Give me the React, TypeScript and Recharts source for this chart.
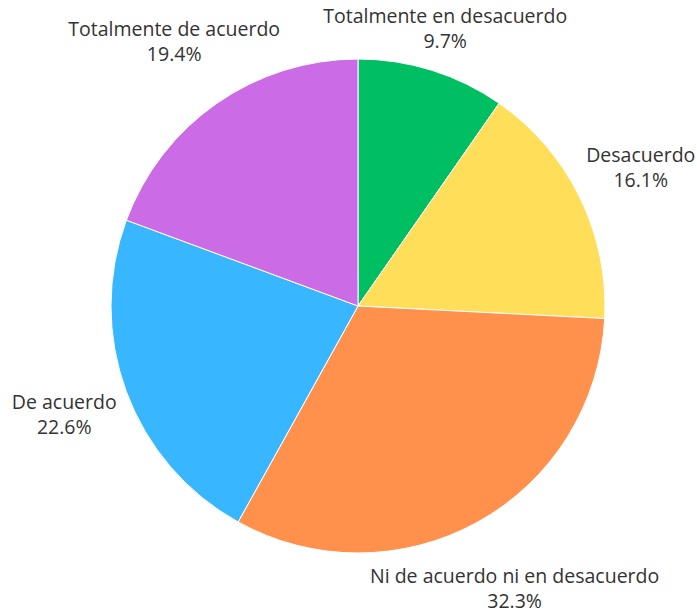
import { PieChart, Pie, Cell } from 'recharts'

const categories = [
  'Totalmente en desacuerdo',
  'Desacuerdo',
  'Ni de acuerdo ni en desacuerdo',
  'De acuerdo',
  'Totalmente de acuerdo',
]
const counts = [3, 5, 10, 7, 6]
const colors = ['#00BF63', '#FFDE59', '#FF914D', '#38B6FF', '#CB6CE6']

const data = categories.map((name, i) => ({ name, value: counts[i] }))

const RADIAN = Math.PI / 180

function renderLabel(props: any) {
  const { cx, cy, midAngle, outerRadius, percent, name } = props
  const dx = Math.cos(-midAngle * RADIAN)
  const dy = Math.sin(-midAngle * RADIAN)
  // labels a bit further out near the top and bottom
  let r = outerRadius + 60 + 18 * Math.abs(dy)
  // keep top labels inside the picture
  const minY = 28
  if (cy + dy * r < minY) r = (cy - minY) / -dy
  const x = cx + dx * r
  const y = cy + dy * r
  return (
    <text x={x} y={y} textAnchor="middle" fill="#333" fontSize={19.5} fontFamily="'Open Sans', sans-serif">
      <tspan x={x} y={y - 5.5}>{name}</tspan>
      <tspan x={x} y={y + 19.5}>{(percent * 100).toFixed(1)}%</tspan>
    </text>
  )
}

export default function App() {
  return (
    <div style={{ position: 'absolute', left: 0, top: 0, background: '#fff' }}>
      <PieChart width={697} height={610} margin={{ top: 0, right: 0, bottom: 0, left: 0 }}>
        <Pie
          data={data}
          dataKey="value"
          nameKey="name"
          cx={358}
          cy={306}
          outerRadius={247}
          startAngle={90}
          endAngle={-270}
          stroke="#fff"
          strokeWidth={1}
          label={renderLabel}
          labelLine={false}
          isAnimationActive={false}
        >
          {data.map((d, i) => (
            <Cell key={d.name} fill={colors[i]} />
          ))}
        </Pie>
      </PieChart>
    </div>
  )
}
